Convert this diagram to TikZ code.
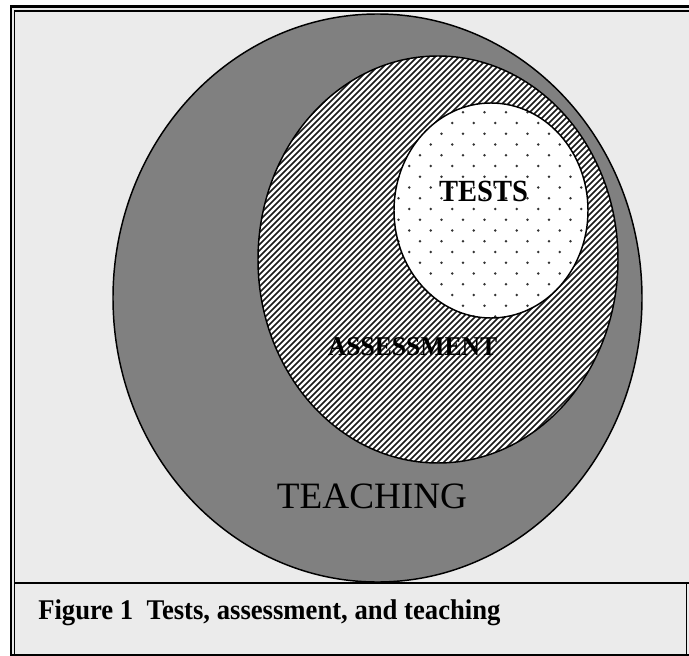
\documentclass[tikz,border=0pt]{standalone}
\usepackage{fontspec}
\setmainfont{Liberation Serif}
\definecolor{teachgray}{HTML}{808080}
\definecolor{granite}{HTML}{EBEBEB}
\begin{document}
\begin{tikzpicture}[x={(0.75pt,0)}, y={(0,-0.75pt)},
  outline/.style={line width=1.1pt, draw=black},
  hatchline/.style={line width=1.15pt, black!90},
  dotfill/.style={black!80},
  labelbold/.style={font=\bfseries, anchor=base, inner sep=0pt}]
\useasboundingbox (0,0) rectangle (689,656);
\fill[white] (0,0) rectangle (689,656);
\fill[granite] (10,5) rectangle (689,656);
% TEACHING ellipse
\fill[teachgray] (377.5,298) ellipse [x radius=264.5, y radius=284];
\draw[outline] (377.5,298) ellipse [x radius=264.5, y radius=284];
% ASSESSMENT ellipse (hatched)
\begin{scope}
  \clip (438,259.5) ellipse [x radius=180, y radius=203.5];
  \fill[white] (250,50) rectangle (625,470);
  \foreach \c in {300,306,...,1100}
    \draw[hatchline] ({\c-520},520) -- ({\c},0);
\end{scope}
\draw[outline] (438,259.5) ellipse [x radius=180, y radius=203.5];
% TESTS ellipse (dotted)
\begin{scope}
  \clip (491,210.5) ellipse [x radius=97, y radius=107.5];
  \fill[white] (390,100) rectangle (592,322);
  \foreach \k in {-10,...,10}
    \foreach \m in {-1,...,9}
      \fill[dotfill] ({409.3+21.5*\m+10.75*mod(abs(\k),2)},{209+10.75*\k}) circle (1.4);
\end{scope}
\draw[outline] (491,210.5) ellipse [x radius=97, y radius=107.5];
% labels
\node[labelbold, font=\bfseries\fontsize{21.4}{24}\selectfont] (tests) at (483.5,202) {\scalebox{1}[1.08]{TESTS}};
\node[labelbold, font=\bfseries\fontsize{19.2}{22}\selectfont] (assess) at (412.5,355) {\scalebox{1}[1.06]{ASSESSMENT}};
\node[anchor=base, inner sep=0pt, font=\fontsize{27.9}{32}\selectfont] (teach) at (372,508) {TEACHING};
% frame
\draw[line width=2.2pt] (11,6.5) rectangle (692,655);
\draw[line width=0.8pt] (14.5,656) -- (14.5,11) -- (692,11);
\draw[line width=1.1pt] (14.5,583) -- (692,583);
\draw[line width=0.6pt] (686,583) -- (686,656);
% caption
\node[anchor=base west, inner sep=0pt, font=\bfseries\fontsize{20}{24}\selectfont] (caption) at (38,619) {\scalebox{1}[1.07]{Figure 1\ \ Tests, assessment, and teaching}};
\end{tikzpicture}
\end{document}
